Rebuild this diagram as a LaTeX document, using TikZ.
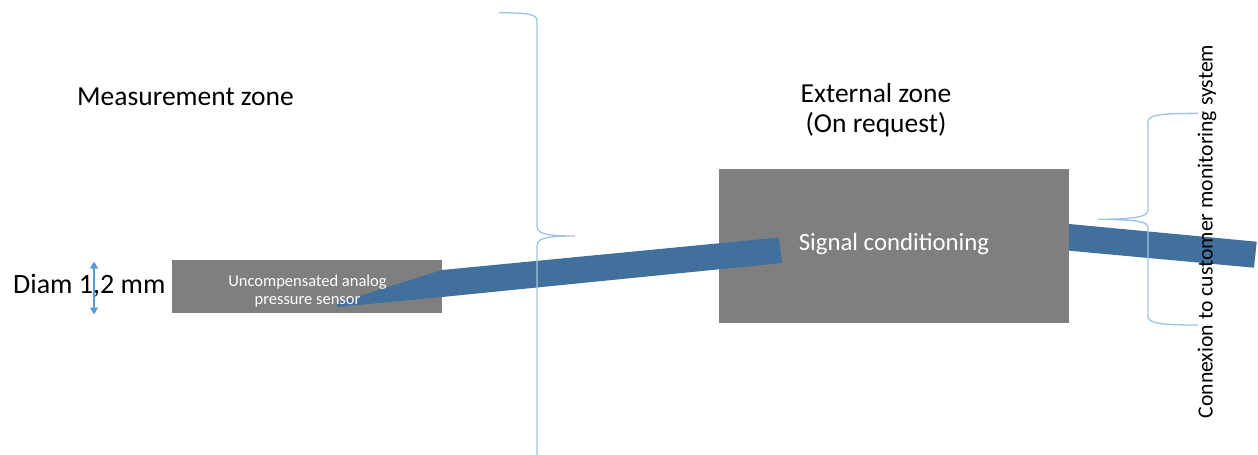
\documentclass[tikz,border=0pt]{standalone}
\usepackage{fontspec}
\setmainfont{Carlito}
\usetikzlibrary{arrows.meta}
\definecolor{boxgray}{HTML}{7F7F7F}
\definecolor{cableblue}{HTML}{41709C}
\definecolor{bracecol}{HTML}{9DC3E6}
\definecolor{arrowcol}{HTML}{5B9BD5}
\tikzset{
  graybox/.style={fill=boxgray, draw=none, inner sep=0pt, text=white, align=center},
  cable/.style={fill=cableblue, draw=none},
  bracepath/.style={draw=bracecol, line width=1.3pt},
  zonetext/.style={inner sep=0pt, text=black, font=\fontsize{27.5}{30}\selectfont},
  dimarrow/.style={draw=arrowcol, line width=1.2pt, {Triangle[width=8pt,length=7pt]}-{Triangle[width=8pt,length=7pt]}}
}
\begin{document}
\begin{tikzpicture}[x=1pt,y=-1pt]
\useasboundingbox (0,0) rectangle (1258,455);
\clip (0,0) rectangle (1258,455);
% boxes
\node[graybox, minimum width=270pt, minimum height=53pt] (sensor) at (307,286.5) {};
\node[graybox, minimum width=350pt, minimum height=154pt] (cond) at (894,246) {};
% cables
\coordinate (c1a) at (337,303);
\coordinate (c1b) at (442,270);
\coordinate (c1c) at (779,237.5);
\coordinate (c1d) at (782,263);
\coordinate (c1e) at (442,297);
\coordinate (c1f) at (337,307);
\fill[cable] (c1a) -- (c1b) -- (c1c) -- (c1d) -- (c1e) -- (c1f) -- cycle;
\coordinate (c2a) at (cond.east |- 0,224);
\coordinate (c2b) at (1256.7,241.7);
\coordinate (c2c) at (1254,267.7);
\coordinate (c2d) at (cond.east |- 0,250.7);
\fill[cable] (c2a) -- (c2b) -- (c2c) -- (c2d) -- cycle;
% box labels
\node[inner sep=0pt, text=white, align=center, font=\fontsize{16.5}{18}\selectfont] (sensorlbl) at (307.5,291) {Uncompensated analog\\pressure sensor};
\node[inner sep=0pt, text=white, font=\fontsize{24.8}{28}\selectfont] (condlbl) at (894,244.5) {Signal conditioning};
% zone texts
\node[zonetext, anchor=base west] (meas) at (77,105) {Measurement zone};
\node[zonetext, align=center] (ext) at (876,110) {External zone\\(On request)};
\node[zonetext, anchor=base west, font=\fontsize{28}{30}\selectfont] (diam) at (13,293) {Diam 1,2 mm};
\node[inner sep=0pt, rotate=90, font=\fontsize{21.7}{24}\selectfont] (conn) at (1207,231.5) {Connexion to customer monitoring system};
% dimension arrow
\coordinate (dtop) at (94,261.5);
\coordinate (dbot) at (94,314.5);
\draw[dimarrow] (dtop) -- (dbot);
% braces
\draw[bracepath] (499,12.7) .. controls (528,13) and (537,14) .. (537,21)
  -- (537,226) .. controls (537,233) and (543,236) .. (575,236)
  .. controls (543,236) and (537,239) .. (537,246)
  -- (537,454) .. controls (537,461) and (528,464) .. (499,465);
\draw[bracepath] (1198,113.3) .. controls (1158,113.5) and (1148,115) .. (1148,122)
  -- (1148,210) .. controls (1148,216) and (1140,219) .. (1098,219.3)
  .. controls (1140,219.6) and (1148,222) .. (1148,228)
  -- (1148,316) .. controls (1148,323) and (1158,325) .. (1198,325);
\end{tikzpicture}
\end{document}
